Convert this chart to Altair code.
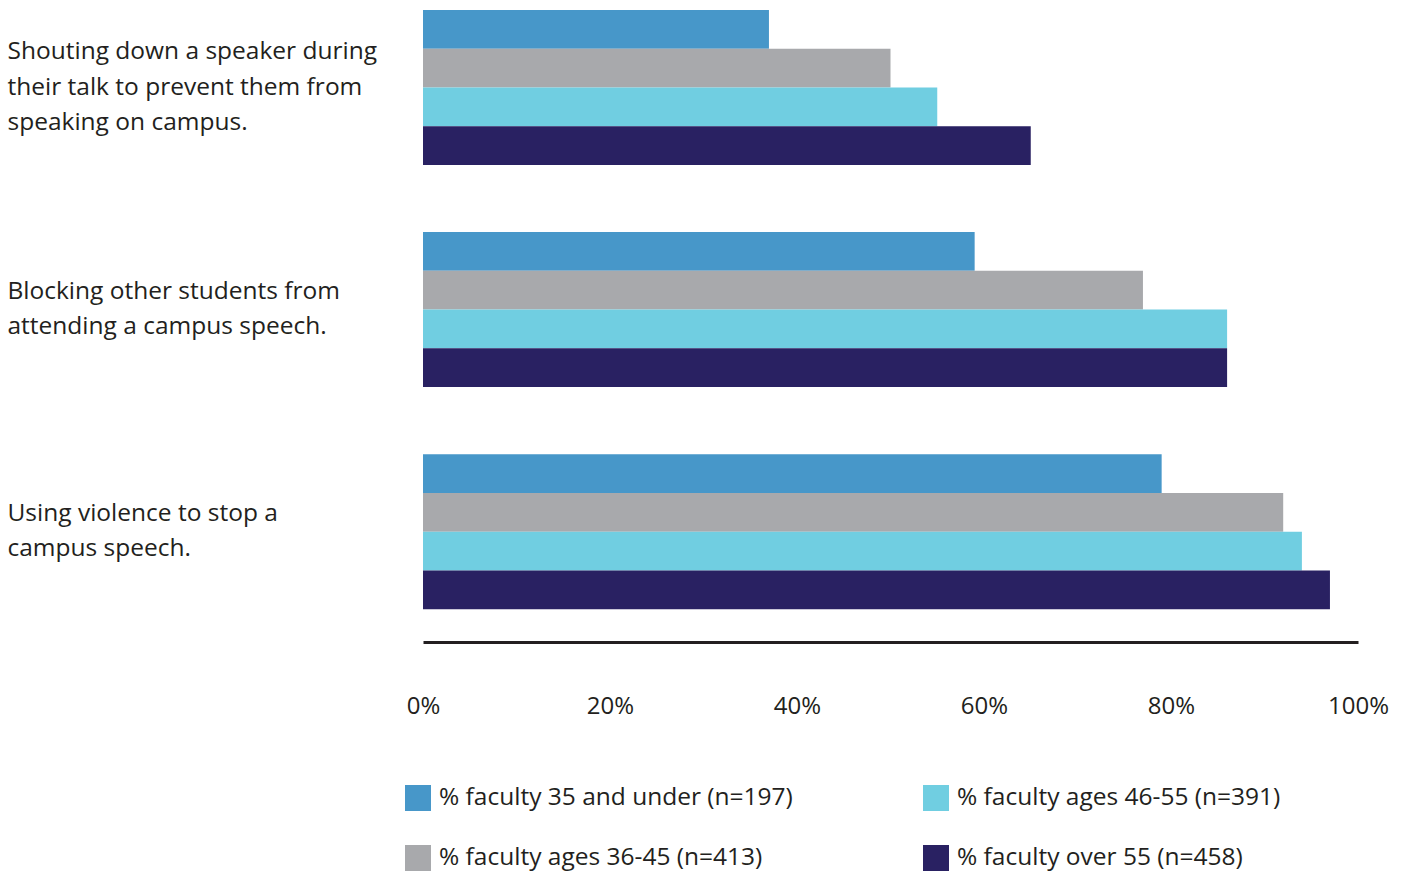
import altair as alt
import pandas as pd

questions = [
    "Shouting down a speaker during|their talk to prevent them from|speaking on campus.",
    "Blocking other students from|attending a campus speech.",
    "Using violence to stop a|campus speech.",
]
series = [
    "% faculty 35 and under (n=197)",
    "% faculty ages 36-45 (n=413)",
    "% faculty ages 46-55 (n=391)",
    "% faculty over 55 (n=458)",
]
colors = ["#4797c9", "#a8a9ac", "#70cee1", "#292162"]
values = [
    [37, 50, 55, 65],
    [59, 77, 86, 86],
    [79, 92, 94, 97],
]

rows = []
for qi, q in enumerate(questions):
    for si, s in enumerate(series):
        rows.append({"question": q, "series": s, "value": values[qi][si] / 100})
df = pd.DataFrame(rows)

legend_order = [series[0], series[2], series[1], series[3]]
legend_colors = [colors[0], colors[2], colors[1], colors[3]]

FONT = "Open Sans"
TXT = "#231f20"
LH = 35.5

chart = alt.Chart(df).mark_bar().encode(
    y=alt.Y(
        "question:N",
        sort=questions,
        scale=alt.Scale(paddingInner=0.302, paddingOuter=0.074, align=0),
        axis=alt.Axis(
            title=None,
            ticks=False,
            domain=False,
            labelExpr="split(datum.label, '|')",
            labelAlign="left",
            labelBaseline="middle",
            labelOffset={
                "condition": {"test": "indexof(datum.value, 'Shouting') === 0", "value": -LH},
                "value": -LH / 2,
            },
            labelPadding=416,
            labelFontSize=24.5,
            labelLineHeight=LH,
            labelColor=TXT,
            labelFont=FONT,
            labelLimit=0,
        ),
    ),
    yOffset=alt.YOffset("series:N", sort=series, scale=alt.Scale(paddingInner=0, paddingOuter=0)),
    x=alt.X(
        "value:Q",
        scale=alt.Scale(domain=[0, 1], nice=False),
        axis=alt.Axis(
            title=None,
            format="%",
            values=[0, 0.2, 0.4, 0.6, 0.8, 1.0],
            ticks=False,
            grid=False,
            domainColor=TXT,
            domainWidth=3,
            labelPadding=52,
            labelFlush=False,
            labelFontSize=24,
            labelColor=TXT,
            labelFont=FONT,
        ),
    ),
    color=alt.Color(
        "series:N",
        scale=alt.Scale(domain=legend_order, range=legend_colors),
        legend=alt.Legend(
            title=None,
            orient="none",
            legendX=-18,
            legendY=775,
            columns=2,
            direction="horizontal",
            symbolType="square",
            symbolSize=676,
            symbolStrokeWidth=0,
            labelFontSize=24.5,
            labelFont=FONT,
            labelColor=TXT,
            labelLimit=0,
            labelOffset=8,
            columnPadding=130,
            rowPadding=34,
            gridAlign="all",
        ),
    ),
).properties(
    width=935,
    height=632,
    background="white",
    padding={"left": 7, "top": 10, "right": 10, "bottom": 5},
).configure_view(strokeWidth=0, stroke="transparent")

chart.save("out.html", embed_options={"renderer": "svg", "actions": False})
